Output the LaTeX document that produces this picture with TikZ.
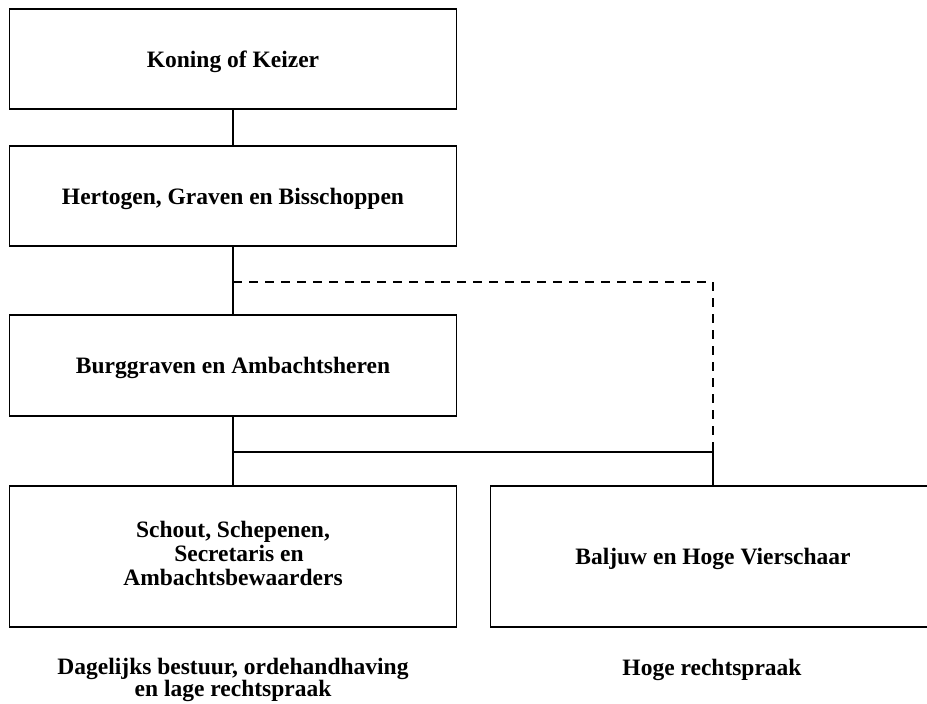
\documentclass[tikz,border=0pt]{standalone}
\usepackage{fontspec}
\setmainfont{Liberation Serif}
\begin{document}
\begin{tikzpicture}[x=1pt,y=-1pt,
  every node/.style={font=\fontsize{23.5}{24}\selectfont\bfseries, align=center, inner sep=0pt, text depth=0pt},
  box/.style={draw, line width=1.6pt, minimum width=447pt},
  conn/.style={line width=1.5pt},
  dconn/.style={line width=1.5pt, dash pattern=on 9pt off 7pt}]
\useasboundingbox (0,0) rectangle (927,704);
\node[box, minimum height=100pt] (k) at (233,59) {Koning of Keizer};
\node[box, minimum height=100pt] (h) at (233,196) {Hertogen, Graven en Bisschoppen};
\node[box, minimum height=101pt] (b) at (233,365.5) {Burggraven en Ambachtsheren};
\node[box, minimum height=141pt, text depth=7pt] (s) at (233,556.5) {Schout, Schepenen,\\ \hspace*{12pt}Secretaris en\\ Ambachtsbewaarders};
\node[box, minimum height=141pt, minimum width=445pt] (v) at (713,556.5) {Baljuw en Hoge Vierschaar};
\node[font=\fontsize{23.5}{20}\selectfont\bfseries] (l1) at (233,677.5) {Dagelijks bestuur, ordehandhaving\\ en lage rechtspraak};
\node (l2) at (712,667.5) {Hoge rechtspraak};
\coordinate (j1) at (233,282);
\coordinate (j2) at (233,452);
\coordinate (j3) at (713,452);
\draw[conn] (k.south) -- (h.north);
\draw[conn] (h.south) -- (b.north);
\draw[conn] (b.south) -- (s.north);
\draw[conn] (j2) -- (j3) -- (v.north);
\draw[dconn] (j1) -| (j3);
\end{tikzpicture}
\end{document}
